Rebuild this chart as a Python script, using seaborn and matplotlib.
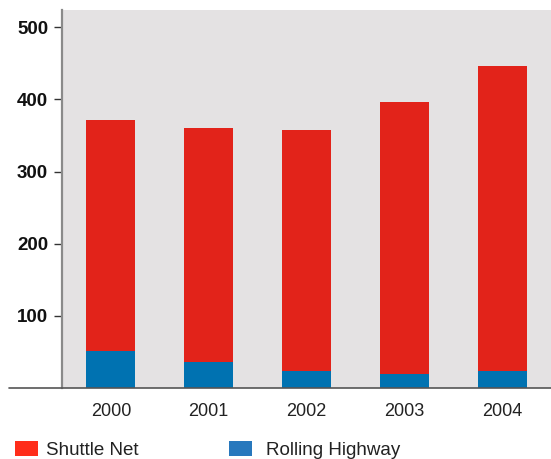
import matplotlib
matplotlib.use("Agg")
import matplotlib.pyplot as plt
import seaborn as sns
import pandas as pd
from matplotlib.patches import Patch
from matplotlib.lines import Line2D

years = ["2000", "2001", "2002", "2003", "2004"]
shuttle_net = [321, 324, 334, 378, 423]
rolling_highway = [51, 36, 24, 19, 24]
series_names = ["Shuttle Net", "Rolling Highway"]
y_ticks = [100, 200, 300, 400, 500]

RED = "#E2231A"
BLUE = "#0072B1"
BG = "#E4E2E3"

df = pd.DataFrame({"year": years, "shuttle": shuttle_net, "rolling": rolling_highway})
df["total"] = df["shuttle"] + df["rolling"]

sns.set_theme(style="white")
plt.rcParams["font.family"] = ["Liberation Sans", "DejaVu Sans"]

fig = plt.figure(figsize=(5.51, 4.59), dpi=100)
ax = fig.add_axes([62 / 551, 1 - 388 / 459, 1 - 62 / 551, (388 - 10) / 459])
ax.set_facecolor(BG)

sns.barplot(data=df, x="year", y="total", color=RED, width=0.5, ax=ax,
            saturation=1, linewidth=0)
sns.barplot(data=df, x="year", y="rolling", color=BLUE, width=0.5, ax=ax,
            saturation=1, linewidth=0)

ax.set_xlim(-0.5, 4.5)
ax.set_ylim(0, 524)
ax.set_yticks(y_ticks)
ax.set_yticklabels([str(t) for t in y_ticks], fontsize=13.5, fontweight="bold", color="#111111")
ax.tick_params(axis="y", left=True, length=6, width=1, color="#333333", pad=4, direction="out")
ax.tick_params(axis="x", bottom=False, length=0, pad=11, labelsize=13, labelcolor="#222222")
ax.set_xlabel("")
ax.set_ylabel("")

for s in ["top", "right", "bottom"]:
    ax.spines[s].set_visible(False)
ax.spines["left"].set_color("#8a8a8a")
ax.spines["left"].set_linewidth(1.6)

# baseline extending to the left of the axes
fig.add_artist(Line2D([9 / 551, 1.0], [1 - 388 / 459, 1 - 388 / 459],
                      transform=fig.transFigure, color="#555555", linewidth=1.2))

legend_colors = ["#FF2D1A", "#2878BD"]
legend_x = [15 / 551, 229 / 551]
legend_pad = [0.4, 0.75]
for name, col, x0, pad in zip(series_names, legend_colors, legend_x, legend_pad):
    leg = fig.legend([Patch(facecolor=col, edgecolor="none")], [name], loc="lower left",
                     bbox_to_anchor=(x0, 0.0), bbox_transform=fig.transFigure,
                     frameon=False, fontsize=13.5, handlelength=1.25, handleheight=0.9,
                     handletextpad=pad, borderaxespad=0.0, borderpad=0.0)
    for t in leg.get_texts():
        t.set_color("#222222")

fig.savefig("out.png", dpi=100)
